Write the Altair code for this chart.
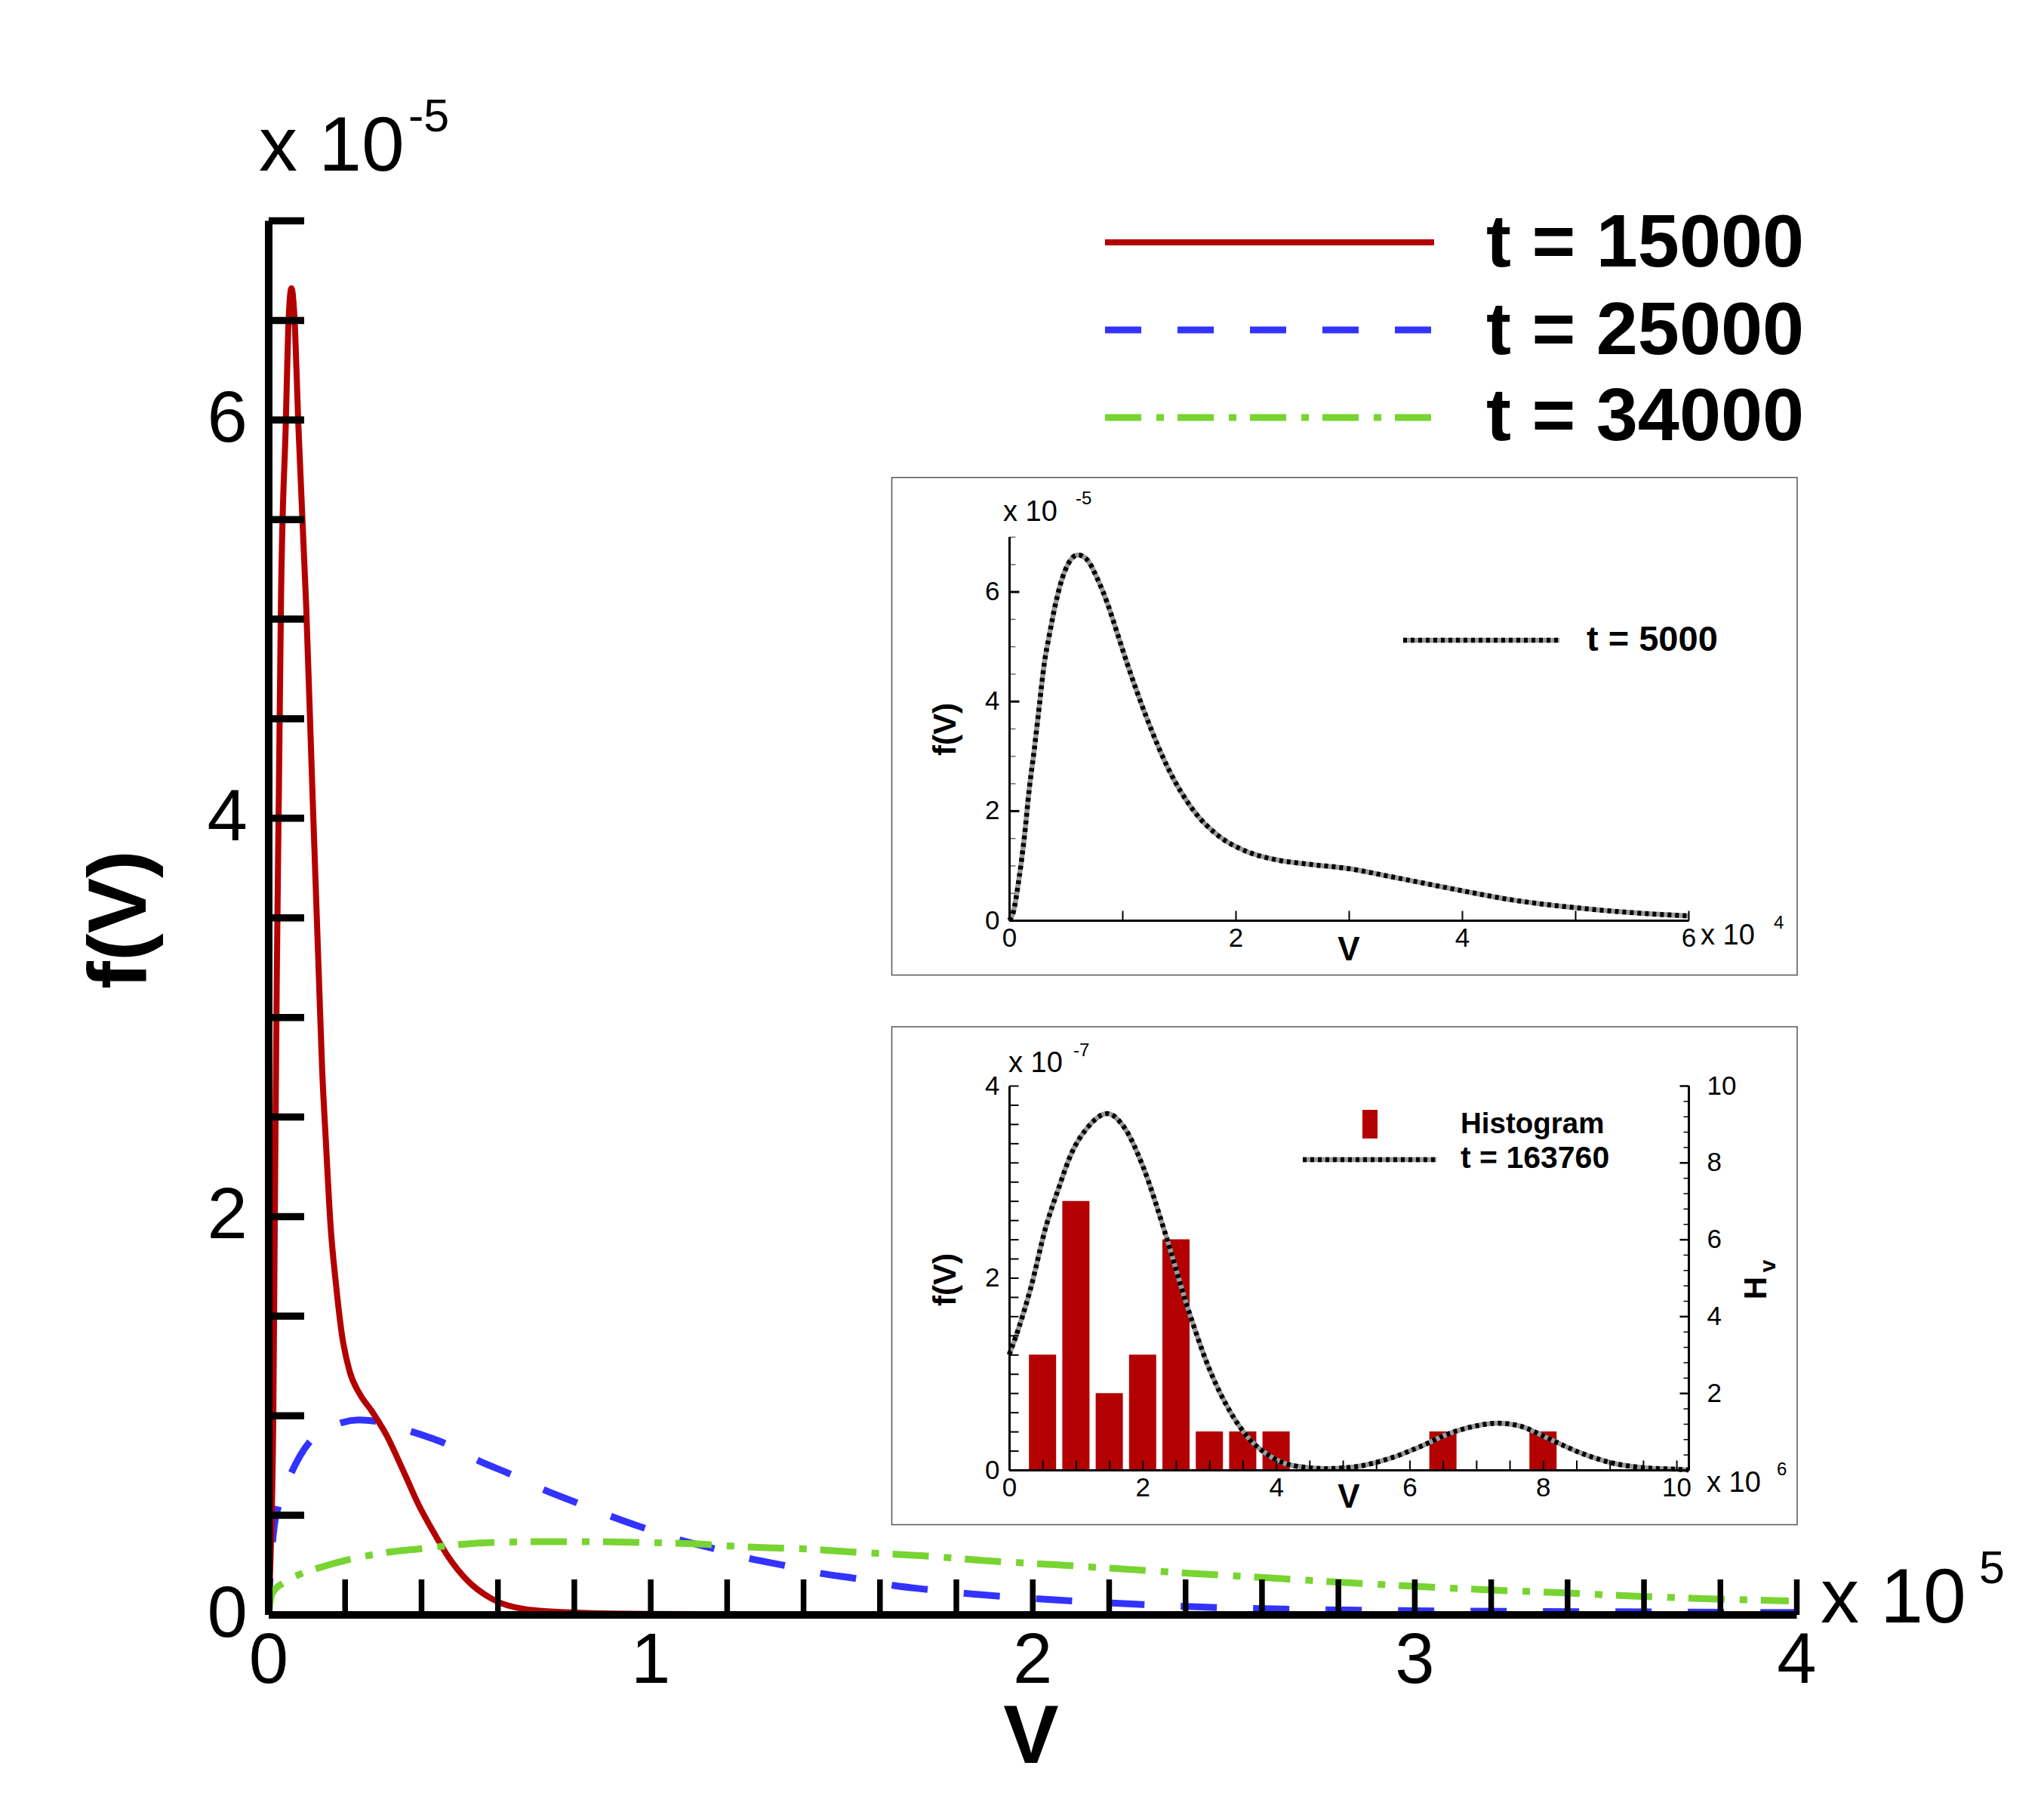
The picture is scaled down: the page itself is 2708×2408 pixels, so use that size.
import altair as alt
import pandas as pd

# main panel curves, V in 1e5 and f in 1e-5
red_v = [0, 0.006, 0.013, 0.017, 0.022, 0.028, 0.033, 0.046, 0.052, 0.0605, 0.07, 0.078, 0.099, 0.116, 0.1327, 0.1407,
         0.1505, 0.163, 0.177, 0.193, 0.2129, 0.2385, 0.2714, 0.3075, 0.357, 0.395, 0.433, 0.47, 0.52, 0.584, 0.672,
         0.8, 1, 2, 4]
red_f = [0, 0.3, 1.0, 2.0, 3.18, 4.2, 5.07, 6.0, 6.45, 6.66, 6.45, 6.0, 5.07, 4.1, 3.18, 2.745,
         2.38, 1.95, 1.66, 1.40, 1.22, 1.11, 1.02, 0.907, 0.705, 0.545, 0.412, 0.293, 0.173, 0.08, 0.027,
         0.01, 0.003, 0, 0]
blue_v = [0, 0.005, 0.016, 0.026, 0.06, 0.107, 0.193, 0.237, 0.281, 0.376, 0.464, 0.552, 0.634, 0.723, 0.811, 0.899,
          0.987, 1.082, 1.164, 1.265, 1.353, 1.448, 1.542, 1.637, 1.725, 1.826, 2.01, 2.29, 2.49, 2.67, 2.86, 3.23,
          3.64, 4]
blue_f = [0, 0.2, 0.45, 0.54, 0.71, 0.864, 0.964, 0.977, 0.97, 0.918, 0.858, 0.771, 0.705, 0.625, 0.559, 0.492,
          0.432, 0.372, 0.332, 0.279, 0.246, 0.206, 0.18, 0.146, 0.126, 0.106, 0.08, 0.05, 0.035, 0.027, 0.022, 0.016,
          0.013, 0.01]
green_v = [0, 0.01, 0.04, 0.08, 0.13, 0.218, 0.313, 0.407, 0.502, 0.596, 0.735, 0.836, 0.975, 1.113, 1.258, 1.4,
           1.542, 1.73, 1.867, 2.06, 2.25, 2.44, 2.63, 2.815, 3.0, 3.2, 3.38, 3.57, 3.76, 3.98]
green_f = [0, 0.106, 0.16, 0.2, 0.233, 0.279, 0.3125, 0.332, 0.352, 0.362, 0.366, 0.366, 0.362, 0.355, 0.339, 0.33,
           0.3125, 0.293, 0.272, 0.25, 0.227, 0.204, 0.183, 0.161, 0.142, 0.123, 0.11, 0.093, 0.08, 0.068]

# top inset, V in 1e4 and f in 1e-5
early_v = [0, 0.033, 0.089, 0.133, 0.178, 0.222, 0.267, 0.311, 0.356, 0.411, 0.489, 0.607, 0.689, 0.778, 0.867, 0.944,
           1.045, 1.21, 1.405, 1.626, 1.85, 2.07, 2.345, 2.62, 3.01, 3.34, 3.73, 4.0, 4.45, 5, 5.5, 6]
early_f = [0, 0.124, 0.79, 1.5, 2.41, 3.12, 3.93, 4.7, 5.22, 5.79, 6.36, 6.67, 6.58, 6.24, 5.79, 5.31,
           4.67, 3.72, 2.77, 2.01, 1.54, 1.28, 1.11, 1.03, 0.94, 0.81, 0.65, 0.54, 0.37, 0.23, 0.14, 0.08]

# bottom inset, V in 1e6 and f in 1e-7
late_v = [0, 0.13, 0.32, 0.55, 0.74, 0.93, 1.17, 1.47, 1.73, 2.01, 2.34, 2.67, 3.0, 3.33, 3.61, 3.89,
          4.27, 4.74, 5.21, 5.68, 6.15, 6.62, 6.99, 7.32, 7.65, 8.12, 8.59, 9.06, 9.53, 10, 10.18]
late_f = [1.2, 1.45, 1.885, 2.53, 2.93, 3.29, 3.56, 3.71, 3.56, 3.15, 2.46, 1.7, 1.05, 0.585, 0.314, 0.152,
          0.043, 0.014, 0.036, 0.115, 0.24, 0.386, 0.458, 0.487, 0.458, 0.314, 0.17, 0.069, 0.022, 0.007, 0]
hist_v = [0.5, 1, 1.5, 2, 2.5, 3, 3.5, 4, 6.5, 8]
hist_n = [3, 7, 2, 3, 6, 1, 1, 1, 1, 1]

# axis ticks
main_x_ticks = [0, 0.2, 0.4, 0.6, 0.8, 1, 1.2, 1.4, 1.6, 1.8, 2, 2.2, 2.4, 2.6, 2.8, 3, 3.2, 3.4, 3.6, 3.8, 4]
main_y_ticks = [0, 0.5, 1, 1.5, 2, 2.5, 3, 3.5, 4, 4.5, 5, 5.5, 6, 6.5, 7]
early_x_ticks = [0, 1, 2, 3, 4, 5, 6]
early_y_major = [0, 2, 4, 6]
early_y_minor = [0.5, 1, 1.5, 2.5, 3, 3.5, 4.5, 5, 5.5, 6.5, 7]
late_x_ticks = [0, 0.5, 1, 1.5, 2, 2.5, 3, 3.5, 4, 4.5, 5, 5.5, 6, 6.5, 7, 7.5, 8, 8.5, 9, 9.5, 10]
late_y_ticks = [0, 0.2, 0.4, 0.6, 0.8, 1, 1.2, 1.4, 1.6, 1.8, 2, 2.2, 2.4, 2.6, 2.8, 3, 3.2, 3.4, 3.6, 3.8, 4]
hist_major_ticks = [0, 2, 4, 6, 8, 10]
hist_minor_ticks = [0.4, 0.8, 1.2, 1.6, 2.4, 2.8, 3.2, 3.6, 4.4, 4.8, 5.2, 5.6, 6.4, 6.8, 7.2, 7.6, 8.4, 8.8, 9.2, 9.6]

FONT = "Liberation Sans"
RED = "#B30000"
BLUE = "#3333FF"
GREEN = "#78D431"
W, H = 2692, 2392
EVEN = "floor(datum.value / 2) * 2 == datum.value && datum.value < 7 ? datum.label : ''"
ALL_INT = "floor(datum.value) == datum.value ? datum.label : ''"
EVERY2 = "floor(datum.value / 2) * 2 == datum.value ? datum.label : ''"
NO_ZERO = "datum.value > 0 ? datum.label : ''"


def table(x, y):
    return pd.DataFrame({"x": x, "y": y})


def axis_style(ticks, tick, gap, size, line, tick_w, tick_color="black"):
    # tickSize can't go negative, so the axis is placed on the far side and its labels pulled back across
    return dict(values=ticks, tickSize=tick, tickWidth=tick_w, domainWidth=line, domainColor="black",
                tickColor=tick_color, labelPadding=-(tick + gap), labelFont=FONT, labelFontSize=size,
                labelColor="black", format=".0f", labelOverlap=False, labelBound=False, labelFlush=False,
                title=None, grid=False, zindex=1, tickRound=False)


def bottom_axis(y_px, ticks, tick, gap, size, line, tick_w, expr):
    return alt.Axis(orient="top", offset=-(y_px - 8), labelBaseline="top", labelAlign="center", labelExpr=expr,
                    **axis_style(ticks, tick, gap, size, line, tick_w))


def left_axis(x_px, ticks, tick, gap, size, line, tick_w, expr=None, tick_color="black"):
    extra = {"labelExpr": expr} if expr else {"labels": False}
    return alt.Axis(orient="right", offset=(x_px - 8) - W, labelBaseline="middle", labelAlign="right", **extra,
                    **axis_style(ticks, tick, gap, size, line, tick_w, tick_color))


def right_axis(x_px, ticks, tick, gap, size, line, tick_w, expr=None):
    extra = {"labelExpr": expr} if expr else {"labels": False}
    return alt.Axis(orient="left", offset=-(x_px - 8), labelBaseline="middle", labelAlign="left", **extra,
                    **axis_style(ticks, tick, gap, size, line, tick_w))


def curve(data, xscale, yscale, color, width, dash=None, xaxis=None, yaxis=None):
    kw = {"strokeDash": dash} if dash else {}
    return (
        alt.Chart(data)
        .mark_line(color=color, strokeWidth=width, interpolate="monotone", **kw)
        .encode(
            x=alt.X("x:Q", scale=xscale, axis=xaxis),
            y=alt.Y("y:Q", scale=yscale, axis=yaxis),
        )
    )


def dotted(data, xscale, yscale, xaxis=None, yaxis=None):
    # black blocks over a gray band, the fine striping of the original reads as gray
    return [
        curve(data, xscale, yscale, "#9a9a9a", 6.5, xaxis=xaxis, yaxis=yaxis),
        curve(data, xscale, yscale, "black", 6.5, [5, 5]),
    ]


def ghost_axis(data, xscale, yscale, yaxis):
    return (
        alt.Chart(data)
        .mark_point(opacity=0)
        .encode(x=alt.X("x:Q", scale=xscale, axis=None), y=alt.Y("y:Q", scale=yscale, axis=yaxis))
    )


def label(text, x, y, size, weight="normal", angle=0, align="left"):
    return (
        alt.Chart(pd.DataFrame({"label": [text]}))
        .mark_text(font=FONT, fontSize=size, fontWeight=weight, angle=angle, align=align,
                   baseline="alphabetic", color="black")
        .encode(x=alt.value(x - 8), y=alt.value(y - 8), text="label:N")
    )


def key_line(x1, x2, y, color, width, dash=None):
    kw = {"strokeDash": dash} if dash else {}
    return (
        alt.Chart(pd.DataFrame({"k": [1]}))
        .mark_rule(color=color, strokeWidth=width, **kw)
        .encode(x=alt.value(x1 - 8), x2=alt.value(x2 - 8), y=alt.value(y - 8))
    )


def box(x1, x2, y1, y2, **style):
    return (
        alt.Chart(pd.DataFrame({"k": [1]}))
        .mark_rect(**style)
        .encode(x=alt.value(x1 - 8), x2=alt.value(x2 - 8), y=alt.value(y1 - 8), y2=alt.value(y2 - 8))
    )


# scales map straight onto pixels of the page so that the insets can sit inside the main panel
main_x = alt.Scale(domain=[0, 4], range=[355.5 - 8, 2380 - 8])
main_y = alt.Scale(domain=[0, 7], range=[2138.5 - 8, 292 - 8])
early_x = alt.Scale(domain=[0, 6], range=[1337 - 8, 2237 - 8])
early_y = alt.Scale(domain=[0, 7], range=[1219 - 8, 711 - 8])
# padding=0 because bars get an automatic scale padding otherwise
late_x = alt.Scale(domain=[0, 10.18], range=[1337 - 8, 2237 - 8], padding=0)
late_y = alt.Scale(domain=[0, 4], range=[1947 - 8, 1438 - 8])
hist_y = alt.Scale(domain=[0, 10], range=[1947 - 8, 1438 - 8])

main_layers = [
    curve(table(blue_v, blue_f), main_x, main_y, BLUE, 9, [48, 48]),
    curve(table(red_v, red_f), main_x, main_y, RED, 8,
          xaxis=bottom_axis(2138.5, main_x_ticks, 47, 16, 94, 10, 7.5, ALL_INT),
          yaxis=left_axis(355.5, main_y_ticks, 47, 28, 96, 10, 9.5, EVEN)),
    curve(table(green_v, green_f), main_x, main_y, GREEN, 9, [48, 20, 10, 18]),
    label("x 10", 343, 226, 102),
    label("-5", 541, 174, 61),
    label("x 10", 2412, 2149, 102),
    label("5", 2622, 2097, 61),
    label("V", 1366, 2335, 110, "bold", align="center"),
    label("f(V)", 193, 1218, 110, "bold", 270, "center"),
    key_line(1464, 1900, 321, RED, 8),
    key_line(1464, 1900, 437, BLUE, 9, [48, 48]),
    key_line(1464, 1900, 553, GREEN, 9, [48, 20, 10, 18]),
    label("t = 15000", 1969, 353, 99, "bold"),
    label("t = 25000", 1969, 469, 99, "bold"),
    label("t = 34000", 1969, 583, 99, "bold"),
]

early = table(early_v, early_f)
early_layers = [
    box(1181.5, 2381, 632.5, 1291.5, fill="white", stroke="#555555", strokeWidth=1.5),
    ghost_axis(early, early_x, early_y, left_axis(1337, early_y_minor, 8, 13, 35, 3, 1.5, tick_color="#666666")),
    *dotted(early, early_x, early_y,
            xaxis=bottom_axis(1219, early_x_ticks, 13, 6, 35, 3, 2, EVERY2),
            yaxis=left_axis(1337, early_y_major, 13, 13, 35, 3, 3, EVEN)),
    label("x 10", 1329, 690, 38),
    label("-5", 1425, 668, 24),
    label("x 10", 2253, 1251, 38),
    label("4", 2350, 1230, 24),
    label("V", 1787, 1272, 44, "bold", align="center"),
    label("f(V)", 1266, 966, 42, "bold", 270, "center"),
    key_line(1859, 2066, 848, "#9a9a9a", 6.5),
    key_line(1859, 2066, 848, "black", 6.5, [5, 5]),
    label("t = 5000", 2102, 862, 47, "bold"),
]

hist = table(hist_v, hist_n)
late_layers = [
    box(1181.5, 2381, 1360, 2019.5, fill="white", stroke="#555555", strokeWidth=1.5),
    alt.Chart(hist)
    .mark_bar(color=RED, size=36)
    .encode(
        x=alt.X("x:Q", scale=late_x, axis=bottom_axis(1947, late_x_ticks, 13, 6, 35, 3, 2, EVERY2)),
        y=alt.Y("y:Q", scale=hist_y, axis=right_axis(2237, hist_major_ticks, 12, 24, 35, 3, 2.5, NO_ZERO)),
    ),
    ghost_axis(hist, late_x, hist_y, right_axis(2237, hist_minor_ticks, 7, 24, 35, 3, 1.5)),
    *dotted(table(late_v, late_f), late_x, late_y,
            yaxis=left_axis(1337, late_y_ticks, 12, 13, 35, 3, 2, EVERY2)),
    label("x 10", 1336, 1420, 38),
    label("-7", 1422, 1399, 24),
    label("x 10", 2261, 1976, 38),
    label("6", 2354, 1954, 24),
    label("V", 1787, 1997, 44, "bold", align="center"),
    label("f(V)", 1266, 1695, 42, "bold", 270, "center"),
    label("H", 2340, 1706, 42, "bold", 270, "center"),
    label("v", 2352, 1677, 30, "bold", 270, "center"),
    box(1805, 1825, 1470, 1508, fill=RED),
    key_line(1726, 1903, 1536, "#9a9a9a", 6.5),
    key_line(1726, 1903, 1536, "black", 6.5, [5, 5]),
    label("Histogram", 1935, 1501, 38.5, "bold"),
    label("t = 163760", 1935, 1547, 41, "bold"),
]

chart = (
    alt.layer(*early_layers, *late_layers, *main_layers)
    .resolve_scale(x="independent", y="independent")
    .resolve_axis(x="independent", y="independent")
    .properties(width=W, height=H, padding=0, autosize="none", background="white")
    .configure_view(stroke=None)
)

chart.save("out.html", embed_options={"renderer": "svg", "actions": False})
